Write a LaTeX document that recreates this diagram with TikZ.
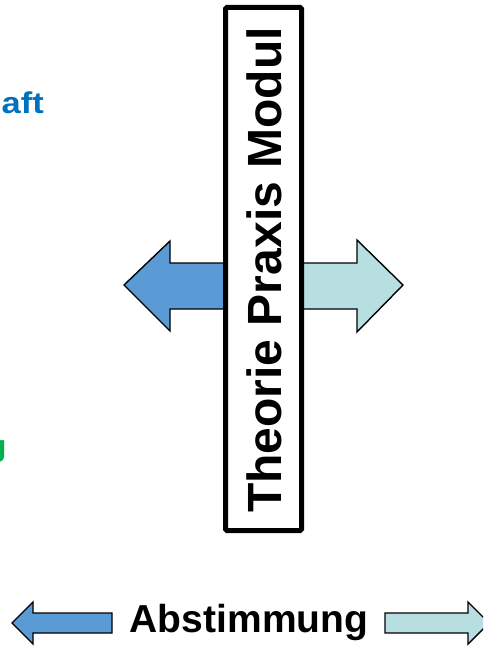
\documentclass[tikz,border=0pt]{standalone}
\usepackage{fontspec}
\setmainfont{Liberation Sans}
\definecolor{arrowblue}{HTML}{5B9BD5}
\definecolor{arrowteal}{HTML}{B7DEE1}
\definecolor{textblue}{HTML}{0070C0}
\definecolor{textgreen}{HTML}{00B050}
\begin{document}
\begin{tikzpicture}[x=1pt,y=-1pt,
  bigarrow/.style={draw=black,line width=1.4pt,line join=miter},
  modulbox/.style={draw=black,fill=white,line width=5pt,rounded corners=1.5pt},
  sidetext/.style={font=\bfseries\fontsize{30}{33}\selectfont,inner sep=0pt,xscale=1.15}]
\useasboundingbox (0,0) rectangle (483,647);
\clip (0,0) rectangle (483,647);

% side labels, partly cut off at the left edge
\node[sidetext,text=textblue,anchor=base east] (wiss) at (44,114) {aft};
\node[sidetext,text=textgreen,anchor=base east] (forsch) at (7,456) {g};

% horizontal arrows behind the module bar
\draw[bigarrow,fill=arrowblue] (264,263) -- (170,263) -- (170,241) -- (124,285)
  -- (170,331) -- (170,309) -- (264,309) -- cycle;
\draw[bigarrow,fill=arrowteal] (264,263) -- (357,263) -- (357,240) -- (403,285)
  -- (357,332) -- (357,309) -- (264,309) -- cycle;

% module bar
\draw[modulbox] (225.5,7.5) rectangle (301.5,530.5);
\node[rotate=90,inner sep=0pt,font=\bfseries\fontsize{48}{52}\selectfont] (modul)
  at (264,270) {Theorie Praxis Modul};

% bottom row
\draw[bigarrow,fill=arrowblue] (112,613) -- (33,613) -- (33,602) -- (12,623)
  -- (33,644) -- (33,633) -- (112,633) -- cycle;
\draw[bigarrow,fill=arrowteal] (385,613) -- (468,613) -- (468,602) -- (489,623)
  -- (468,644) -- (468,633) -- (385,633) -- cycle;
\node[inner sep=0pt,anchor=base,font=\bfseries\fontsize{39}{42}\selectfont] (abst)
  at (249,632) {Abstimmung};
\end{tikzpicture}
\end{document}
